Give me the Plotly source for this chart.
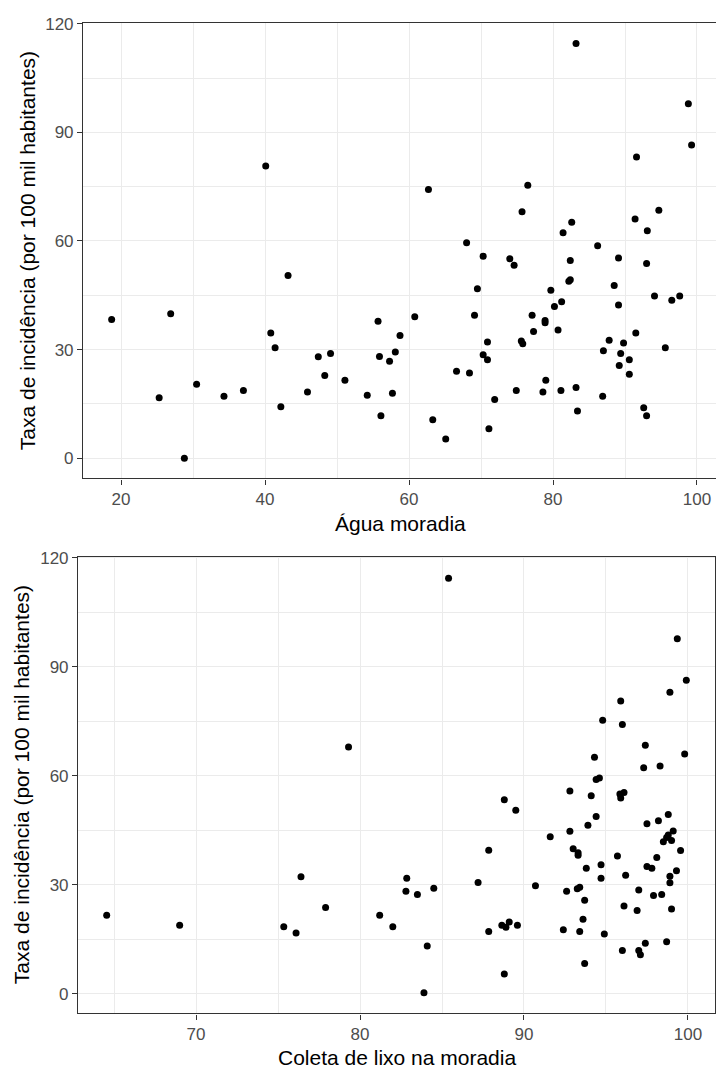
import plotly.graph_objects as go

# ---- Data: top panel (Água moradia) ----
agua_x = [18.7, 25.3, 26.9, 28.8, 30.5, 34.3, 37.0, 40.1, 40.8, 41.4,
          42.2, 43.2, 45.9, 47.4, 48.3, 49.1, 51.1, 54.2, 55.7, 55.9,
          56.1, 57.3, 57.7, 58.1, 58.75, 60.8, 62.7, 63.3, 65.1, 66.6,
          68.0, 68.4, 69.1, 69.5, 70.3, 70.3, 70.9, 70.9, 71.1, 71.9,
          74.0, 74.6, 74.9, 75.6, 75.8, 75.7, 76.5, 77.1, 77.3, 78.9,
          78.9, 79.7, 80.2, 81.2, 80.7, 79.0, 78.6, 81.1, 83.2, 83.4,
          82.4, 82.2, 82.4, 82.6, 81.4, 83.2, 86.2, 86.9, 87.0, 87.8,
          88.5, 89.1, 89.1, 89.2, 89.4, 89.8, 90.6, 90.6, 91.5, 91.6,
          91.4, 92.6, 93.0, 93.0, 93.1, 94.1, 94.7, 95.6, 96.5, 97.6,
          98.8, 99.25]
agua_y = [38.3, 16.7, 39.9, 0.0, 20.4, 17.1, 18.7, 80.7, 34.6, 30.5,
          14.2, 50.5, 18.3, 28.0, 22.8, 28.9, 21.5, 17.4, 37.8, 28.1,
          11.7, 26.8, 17.9, 29.3, 33.9, 39.1, 74.2, 10.6, 5.3, 24.0,
          59.5, 23.5, 39.5, 46.8, 55.8, 28.6, 27.2, 32.1, 8.1, 16.2,
          55.1, 53.3, 18.7, 32.4, 31.6, 68.1, 75.4, 39.5, 35.0, 38.0,
          37.4, 46.4, 41.9, 43.2, 35.4, 21.5, 18.3, 18.7, 19.5, 13.0,
          54.6, 48.9, 49.3, 65.2, 62.3, 114.6, 58.7, 17.1, 29.7, 32.6,
          47.7, 55.3, 42.3, 25.6, 28.9, 31.8, 27.2, 23.2, 34.6, 83.2,
          66.1, 13.9, 11.7, 53.8, 62.8, 44.8, 68.5, 30.5, 43.6, 44.8,
          97.9, 86.5]

# ---- Data: bottom panel (Coleta de lixo na moradia) ----
lixo_x = [64.55, 69.0, 75.35, 76.1, 76.4, 77.9, 79.3, 81.2, 82.0, 82.85,
          82.8, 83.5, 83.9, 84.1, 84.5, 85.4, 87.2, 87.85, 87.85, 88.65,
          88.9, 89.1, 89.6, 88.8, 88.8, 89.5, 90.7, 91.6, 92.4, 92.6,
          92.8, 92.8, 93.0, 93.3, 93.3, 93.4, 93.25, 93.4, 93.6, 93.7,
          93.7, 93.8, 93.9, 94.1, 94.3, 94.4, 94.6, 94.4, 94.7, 94.7,
          94.8, 94.9, 95.7, 95.85, 96.1, 95.9, 95.9, 96.0, 96.0, 96.1,
          96.2, 96.9, 97.0, 97.0, 97.1, 97.3, 97.4, 97.4, 97.5, 97.5,
          97.8, 97.9, 98.1, 98.2, 98.3, 98.4, 98.5, 98.7, 98.7, 98.8,
          98.8, 98.9, 98.9, 98.9, 99.0, 99.0, 99.1, 99.3, 99.35, 99.55,
          99.8, 99.9]
lixo_y = [21.6, 18.8, 18.4, 16.7, 32.2, 23.7, 67.9, 21.6, 18.4, 31.8,
          28.2, 27.3, 0.2, 13.1, 29.0, 114.4, 30.6, 39.5, 17.1, 18.8,
          18.3, 19.7, 18.8, 53.4, 5.4, 50.5, 29.7, 43.2, 17.6, 28.2,
          55.8, 44.7, 39.9, 38.8, 38.1, 29.3, 28.9, 17.1, 20.5, 25.7,
          8.3, 34.5, 46.4, 54.5, 65.1, 59.0, 59.4, 48.8, 35.5, 31.8,
          75.3, 16.4, 37.9, 55.0, 55.4, 53.9, 80.6, 74.1, 11.9, 24.1,
          32.6, 22.9, 28.5, 11.9, 10.7, 62.2, 68.4, 13.9, 46.8, 35.0,
          34.5, 27.0, 37.5, 47.6, 62.7, 27.3, 41.8, 43.0, 14.3, 49.3,
          43.7, 83.0, 32.3, 30.5, 42.2, 23.3, 44.8, 33.8, 97.7, 39.4,
          66.0, 86.3]

y_ticks = [0, 30, 60, 90, 120]
agua_ticks = [20, 40, 60, 80, 100]
lixo_ticks = [70, 80, 90, 100]

W, H = 716, 1075
FONT = "Liberation Sans, Arial, sans-serif"
GRID = "#EBEBEB"
LINE = "#333333"
TICKFONT = dict(family=FONT, size=17, color="#4D4D4D")

fig = go.Figure()
fig.add_trace(go.Scatter(x=agua_x, y=agua_y, mode="markers",
                         marker=dict(color="black", size=7),
                         xaxis="x", yaxis="y", showlegend=False))
fig.add_trace(go.Scatter(x=lixo_x, y=lixo_y, mode="markers",
                         marker=dict(color="black", size=7),
                         xaxis="x2", yaxis="y2", showlegend=False))

def axis_common(**kw):
    d = dict(showgrid=True, gridcolor=GRID, gridwidth=1.1,
             zeroline=False, showline=True, linecolor=LINE, linewidth=1.1,
             ticks="outside", ticklen=5, tickwidth=1.1, tickcolor=LINE,
             tickfont=TICKFONT,
             minor=dict(showgrid=True, gridcolor=GRID, gridwidth=0.8, ticks=""))
    d.update(kw)
    return d

fig.update_layout(
    width=W, height=H, autosize=False,
    margin=dict(l=0, r=0, t=0, b=0),
    paper_bgcolor="white", plot_bgcolor="white",
    font=dict(family=FONT),
    xaxis=axis_common(domain=[83 / W, 1.0], range=[14.72, 102.64], anchor="y",
                      tickmode="array", tickvals=agua_ticks, mirror=True,
                      minor_dtick=10, minor_tick0=10),
    yaxis=axis_common(domain=[1 - 474 / H, 1 - 15 / H], range=[-5.62, 120.27], anchor="x",
                      tickmode="array", tickvals=y_ticks, mirror=False,
                      minor_dtick=15, minor_tick0=0),
    xaxis2=axis_common(domain=[78 / W, 715 / W], range=[62.80, 101.65], anchor="y2",
                       tickmode="array", tickvals=lixo_ticks, mirror=True,
                       minor_dtick=5, minor_tick0=0),
    yaxis2=axis_common(domain=[1 - 1013 / H, 1 - 553 / H], range=[-5.47, 120.28], anchor="x2",
                       tickmode="array", tickvals=y_ticks, mirror=True,
                       minor_dtick=15, minor_tick0=0),
)

TITLE_FONT = dict(family=FONT, size=21, color="black")
ann = [
    dict(text="Água moradia", x=400 / W, y=1 - 519 / H),
    dict(text="Coleta de lixo na moradia", x=397 / W, y=1 - 1057 / H),
    dict(text="Taxa de incidência (por 100 mil habitantes)", x=27 / W, y=1 - 245 / H, textangle=-90),
    dict(text="Taxa de incidência (por 100 mil habitantes)", x=21 / W, y=1 - 783 / H, textangle=-90),
]
for a in ann:
    fig.add_annotation(xref="paper", yref="paper", showarrow=False,
                       xanchor="center", yanchor="middle", font=TITLE_FONT, **a)

fig.write_html("out.html")
